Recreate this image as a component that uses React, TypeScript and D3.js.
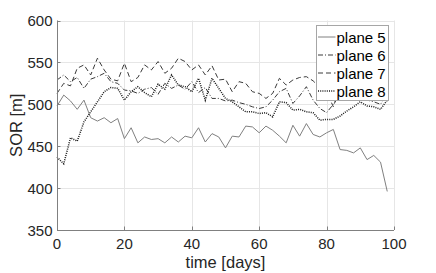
import React from 'react';
import * as d3 from 'd3';

// time axis: one sample every 2 days
const days = d3.range(0, 100, 2);

// SOR [m] per plane
const plane5 = [498, 511, 504, 494, 505, 484, 480, 484, 478, 483, 459, 472, 454, 461, 458, 459, 454, 461, 455, 462,
  460, 472, 455, 465, 461, 448, 462, 461, 474, 473, 466, 474, 469, 462, 454, 475, 462, 477, 464, 461,
  466, 470, 446, 445, 442, 448, 434, 439, 431, 396];
const plane6 = [529, 535, 527, 532, 519, 530, 533, 537, 527, 525, 517, 516, 513, 518, 520, 512, 525, 519, 523, 518,
  527, 514, 520, 507, 507, 504, 505, 502, 500, 497, 495, 497, 505, 515, 519, 501, 510, 521, 505, 495,
  490, 500, 512, 505, 512, 508, 505, 503, 500, 512];
const plane7 = [513, 525, 522, 543, 547, 535, 555, 541, 530, 528, 549, 527, 532, 547, 541, 551, 537, 543, 555, 551,
  541, 547, 535, 546, 529, 530, 515, 527, 525, 515, 513, 507, 513, 531, 523, 529, 532, 533, 528, 520,
  515, 497, 520, 525, 518, 522, 515, 518, 510, 520];
const plane8 = [437, 429, 460, 456, 479, 491, 503, 515, 520, 519, 505, 515, 521, 514, 509, 524, 518, 535, 523, 521,
  515, 531, 505, 531, 519, 507, 503, 497, 491, 491, 489, 490, 485, 503, 502, 493, 494, 491, 490, 481,
  482, 482, 486, 492, 497, 503, 498, 497, 494, 505];

const xTicks = [0, 20, 40, 60, 80, 100];
const yTicks = [350, 400, 450, 500, 550, 600];

const seriesNames = ['plane 5', 'plane 6', 'plane 7', 'plane 8'];
const seriesData = [plane5, plane6, plane7, plane8];
const seriesStyle = [
  { color: '#808080', dash: 'none', width: 1 },
  { color: '#3a3a3a', dash: '5,2,1,2', width: 1 },
  { color: '#3a3a3a', dash: '5,3', width: 1 },
  { color: '#1a1a1a', dash: '1,1.2', width: 1.5 },
];

const W = 436;
const H = 273;
const margin = { left: 57, right: 42, top: 20.5, bottom: 43 };
const font = '"Liberation Sans", Arial, Helvetica, sans-serif';
const textColor = '#262626';

export default function App() {
  const x = d3.scaleLinear().domain([0, 100]).range([margin.left, W - margin.right]);
  const y = d3.scaleLinear().domain([350, 600]).range([H - margin.bottom, margin.top]);

  const line = d3.line<number>()
    .x((_, i) => x(days[i]))
    .y(d => y(d));

  const x0 = x(0);
  const x1 = x(100);
  const y0 = y(350);
  const y1 = y(600);

  // legend placement
  const lg = { x: 316.5, y: 25.5, w: 72, h: 75, row: 18 };

  return (
    <svg width={W} height={H} style={{ position: 'absolute', left: 0, top: 0, background: '#fff' }}>
      {/* grid */}
      <g stroke="#e6e6e6" strokeWidth={1}>
        {xTicks.map(t => (
          <line key={'gx' + t} x1={Math.round(x(t)) + 0.5} x2={Math.round(x(t)) + 0.5} y1={y1} y2={y0} />
        ))}
        {yTicks.map(t => (
          <line key={'gy' + t} x1={x0} x2={x1} y1={Math.round(y(t)) + 0.5} y2={Math.round(y(t)) + 0.5} />
        ))}
      </g>

      {/* series */}
      {seriesData.map((s, i) => (
        <path
          key={seriesNames[i]}
          d={line(s) || ''}
          fill="none"
          stroke={seriesStyle[i].color}
          strokeWidth={seriesStyle[i].width}
          strokeDasharray={seriesStyle[i].dash}
        />
      ))}

      {/* axes */}
      <g stroke="#808080" strokeWidth={1}>
        <line x1={Math.round(x0) + 0.5} x2={Math.round(x0) + 0.5} y1={y1} y2={Math.round(y0) + 0.5} />
        <line x1={Math.round(x0) + 0.5} x2={x1} y1={Math.round(y0) + 0.5} y2={Math.round(y0) + 0.5} />
        {xTicks.map(t => (
          <line key={'tx' + t} x1={Math.round(x(t)) + 0.5} x2={Math.round(x(t)) + 0.5} y1={y0} y2={y0 - 3.5} />
        ))}
        {yTicks.map(t => (
          <line key={'ty' + t} x1={x0} x2={x0 + 3.5} y1={Math.round(y(t)) + 0.5} y2={Math.round(y(t)) + 0.5} />
        ))}
      </g>

      {/* tick labels */}
      <g fontFamily={font} fontSize={15} fill={textColor}>
        {xTicks.map(t => (
          <text key={'lx' + t} x={x(t)} y={y0 + 18.5} textAnchor="middle">{t}</text>
        ))}
        {yTicks.map(t => (
          <text key={'ly' + t} x={x0 - 4.5} y={y(t) + 5.5} textAnchor="end">{t}</text>
        ))}
      </g>

      {/* axis titles */}
      <text x={(x0 + x1) / 2} y={268} textAnchor="middle" fontFamily={font} fontSize={16.5} fill={textColor}>
        time [days]
      </text>
      <text
        transform={`translate(22,${(y0 + y1) / 2}) rotate(-90)`}
        textAnchor="middle"
        fontFamily={font}
        fontSize={16.5}
        fill={textColor}
      >
        SOR [m]
      </text>

      {/* legend */}
      <rect x={lg.x} y={lg.y} width={lg.w} height={lg.h} fill="#fff" stroke="#a6a6a6" strokeWidth={1} />
      {seriesNames.map((name, i) => {
        const cy = lg.y + 11.5 + i * lg.row;
        return (
          <g key={'lg' + name}>
            <line
              x1={lg.x + 1.5}
              x2={lg.x + 19}
              y1={cy}
              y2={cy}
              stroke={seriesStyle[i].color}
              strokeWidth={seriesStyle[i].width}
              strokeDasharray={seriesStyle[i].dash}
            />
            <text x={lg.x + 20} y={cy + 5.5} fontFamily={font} fontSize={15} fill="#000">{name}</text>
          </g>
        );
      })}
    </svg>
  );
}
